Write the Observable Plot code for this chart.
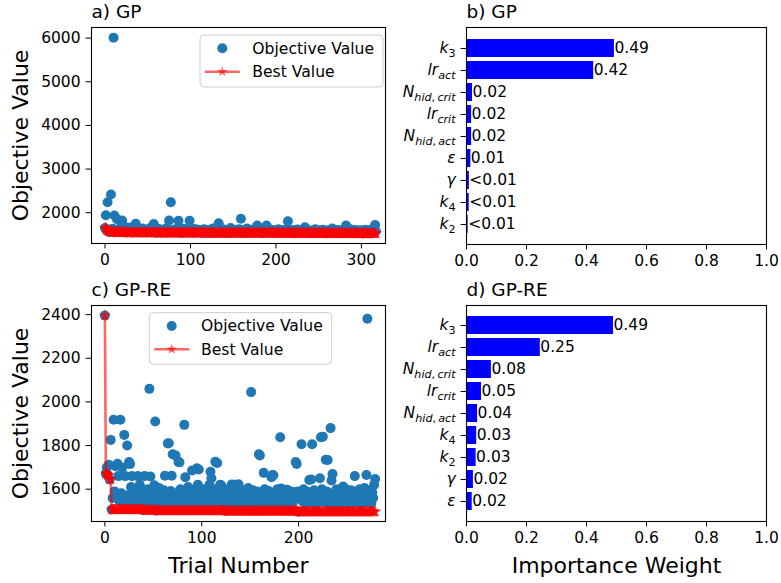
<!DOCTYPE html>
<html><head><meta charset="utf-8">
<script src="https://cdn.jsdelivr.net/npm/d3@7"></script>
<script src="https://cdn.jsdelivr.net/npm/@observablehq/plot@0.6"></script>
<style>
html,body{margin:0;padding:0;background:#fff;}
#chart{position:relative;width:781px;height:583px;background:#fff;overflow:hidden;}
</style></head><body><div id="chart"></div>
<script>
// ---------- data ----------
const objectiveGP = [
1648,1940,1600,2240,1575,1612,1560,2416,1590,1632,6010,1936,1552,1588,1850,1605,1570,1640,1562,1598,
1822,1575,1690,1558,1603,1545,1620,1580,1565,1660,1552,1595,1572,1548,1610,1585,1746,1560,1575,1630,
1555,1592,1568,1545,1640,1578,1552,1600,1570,1546,1615,1583,1560,1650,1549,1590,1575,1740,1558,1605,
1540,1580,1568,1625,1551,1594,1562,1545,1610,1575,1556,1640,1583,1549,1596,1822,1565,2240,1580,1602,
1545,1570,1620,1556,1590,1575,1815,1548,1605,1562,1541,1585,1630,1555,1572,1598,1545,1612,1566,1815,
1580,1548,1600,1560,1542,1625,1570,1551,1588,1563,1610,1545,1578,1595,1555,1538,1620,1567,1585,1549,
1602,1558,1535,1575,1590,1548,1640,1563,1580,1545,1570,1610,1556,1758,1582,1540,1598,1565,1550,1615,
1572,1544,1588,1560,1600,1538,1575,1650,1552,1585,1566,1545,1605,1578,1540,1592,1558,1620,1570,1860,
1548,1582,1600,1555,1536,1575,1640,1562,1590,1545,1610,1568,1552,1585,1600,1540,1572,1630,1707,1558,
1580,1545,1598,1562,1535,1615,1570,1550,1588,1707,1556,1640,1575,1540,1595,1562,1548,1605,1580,1533,
1570,1590,1552,1620,1565,1542,1585,1600,1556,1574,1538,1612,1560,1582,1805,1548,1595,1566,1540,1578,
1602,1555,1532,1588,1570,1615,1546,1580,1560,1598,1540,1575,1552,1590,1668,1563,1538,1605,1572,1548,
1585,1560,1530,1595,1570,1545,1620,1556,1578,1540,1600,1565,1550,1588,1535,1610,1572,1546,1582,1560,
1530,1598,1568,1545,1585,1556,1640,1575,1538,1595,1562,1548,1580,1605,1540,1570,1528,1588,1552,1600,
1565,1542,1707,1578,1550,1596,1535,1620,1560,1572,1545,1585,1528,1605,1568,1550,1590,1540,1575,1560,
1598,1545,1526,1580,1565,1612,1550,1588,1538,1570,1600,1555,1530,1585,1645,1560,1720,1575
];
const objectiveGPRE = [
2396,1671,1700,1665,1712,1645,1826,1507,1560,1918,1590,1705,1575,1717,1660,1545,1918,1582,1700,1553,
1849,1660,1530,1800,1572,1725,1715,1610,1660,1540,1585,1520,1598,1566,1660,1548,1620,1575,1535,1590,
1504,1660,1570,1545,1600,1582,2060,1658,1528,1590,1560,1618,1910,1502,1575,1550,1605,1532,1585,1562,
1540,1595,1662,1515,1578,1810,1811,1550,1592,1662,1760,1535,1580,1755,1565,1525,1725,1723,1600,1545,
1572,1590,1895,1655,1530,1568,1610,1548,1585,1520,1686,1575,1540,1598,1562,1696,1620,1690,1555,1530,
1580,1545,1600,1565,1525,1590,1540,1572,1620,1680,1650,1535,1585,1558,1726,1600,1720,1545,1570,1620,
1618,1530,1580,1555,1600,1500,1568,1545,1590,1520,1575,1622,1540,1560,1620,1585,1532,1618,1623,1550,
1572,1535,1595,1560,1520,1588,1545,1570,1605,1530,1562,2045,1580,1595,1540,1575,1522,1590,1555,1760,
1755,1568,1540,1585,1675,1600,1530,1562,1548,1592,1520,1575,1655,1665,1664,1540,1582,1558,1600,1525,
1570,1838,1603,1594,1545,1580,1560,1530,1598,1552,1575,1520,1590,1565,1540,1585,1555,1725,1716,1590,
1497,1560,1580,1806,1545,1600,1570,1560,1530,1588,1550,1642,1575,1645,1806,1540,1595,1560,1525,1580,
1565,1548,1650,1838,1600,1841,1575,1540,1735,1590,1734,1560,1530,1880,1640,1670,1555,1585,1520,1600,
1570,1545,1590,1560,1530,1580,1612,1550,1575,1600,1540,1565,1585,1525,1595,1555,1570,1540,1660,1590,
1560,1580,1545,1600,1530,1575,1555,1590,1605,1540,1665,2381,1570,1550,1595,1535,1585,1560,1620,1647
];
const paramsGP = ["k3","lr_act","N_hid_crit","lr_crit","N_hid_act","eps","gamma","k4","k2"];
const weightsGP = [0.493,0.424,0.020,0.017,0.017,0.0145,0.0095,0.009,0.0055];
const valueLabelsGP = ["0.49","0.42","0.02","0.02","0.02","0.01","<0.01","<0.01","<0.01"];
const paramsGPRE = ["k3","lr_act","N_hid_crit","lr_crit","N_hid_act","k4","k2","gamma","eps"];
const weightsGPRE = [0.490,0.246,0.083,0.050,0.037,0.034,0.032,0.023,0.019];
const valueLabelsGPRE = ["0.49","0.25","0.08","0.05","0.04","0.03","0.03","0.02","0.02"];
const trialTicksGP = [0,100,200,300];
const trialTicksGPRE = [0,100,200];
const objectiveTicksGP = [2000,3000,4000,5000,6000];
const objectiveTicksGPRE = [1600,1800,2000,2200,2400];
const weightTicks = [0,0.2,0.4,0.6,0.8,1.0];
// math-style tick labels: [text, italic, subscript]
const paramLabels = {
  k3: [["k",1,0],["3",0,1]],
  k4: [["k",1,0],["4",0,1]],
  k2: [["k",1,0],["2",0,1]],
  lr_act: [["lr",1,0],["act",1,1]],
  lr_crit: [["lr",1,0],["crit",1,1]],
  N_hid_crit: [["N",1,0],["hid",1,1],[",",0,1],["\u2009crit",1,1]],
  N_hid_act: [["N",1,0],["hid",1,1],[",",0,1],["\u2009act",1,1]],
  eps: [["\u03b5",1,0]],
  gamma: [["\u03b3",1,0]]
};

// ---------- layout ----------
const FONT = "DejaVu Sans";
const TICK = 15.5, LABEL = 22, TITLE = 18.5;
const DOT_R = 5, STAR_R = 3.3;
const chart = document.getElementById("chart");
const baseStyle = {fontFamily: FONT, fontSize: TICK + "px", color: "black", background: "transparent", overflow: "visible"};

function place(svg, left, top) {
  svg.style.position = "absolute";
  svg.style.left = left + "px";
  svg.style.top = top + "px";
  svg.style.maxWidth = "none";
  chart.appendChild(svg);
}

function scatterPanel(o) {
  const best = []; let m = Infinity;
  for (const v of o.values) { m = Math.min(m, v); best.push(m); }
  const marks = [
    Plot.dot(o.values, {x: (d, i) => i, y: d => d, r: DOT_R, fill: "#1f77b4", clip: true}),
    Plot.line(best, {x: (d, i) => i, y: d => d, stroke: "#ff0000", strokeOpacity: 0.6, strokeWidth: 2.6, clip: true}),
    Plot.dot(best, {x: (d, i) => i, y: d => d, symbol: "star", r: STAR_R, fill: "#ff0000", fillOpacity: 0.6, stroke: "#ff0000", strokeOpacity: 0.6, strokeWidth: 0.8, clip: true}),
    Plot.frame({stroke: "black", strokeWidth: 1.1}),
    Plot.axisX({ticks: o.xTicks, tickFormat: d3.format("d"), tickSize: 5.4, tickPadding: 5.5, label: null}),
    Plot.axisY({ticks: o.yTicks, tickFormat: d3.format("d"), tickSize: 5.4, tickPadding: 5.5, label: null}),
    Plot.text([o.title], {text: d => d, frameAnchor: "top-left", textAnchor: "start", lineAnchor: "bottom", dy: -9.3, fontSize: TITLE}),
    Plot.text(["Objective Value"], {text: d => d, frameAnchor: "left", rotate: -90, textAnchor: "middle", lineAnchor: "top", dx: -79, fontSize: LABEL})
  ];
  if (o.xLabel) marks.push(Plot.text([o.xLabel], {text: d => d, frameAnchor: "bottom", lineAnchor: "bottom", dy: 51, fontSize: LABEL}));
  const svg = Plot.plot({
    width: 390, height: o.height,
    marginLeft: 91, marginRight: 5, marginTop: o.marginTop, marginBottom: o.marginBottom,
    style: baseStyle,
    x: {domain: o.xDomain},
    y: {domain: o.yDomain},
    marks
  });
  place(svg, 0, o.top);
}

function barPanel(o) {
  const rows = o.params.map((p, i) => ({p, w: o.weights[i], l: o.labels[i]}));
  const marks = [
    Plot.barX(rows, {x: "w", y: "p", fill: "#0000ff"}),
    Plot.text(rows, {x: "w", y: "p", text: "l", textAnchor: "start", lineAnchor: "middle", fill: "black"}),
    Plot.frame({stroke: "black", strokeWidth: 1.1}),
    Plot.axisX({ticks: weightTicks, tickFormat: d3.format(".1f"), tickSize: 5.4, tickPadding: 5.5, label: null}),
    Plot.axisY({tickFormat: d => d, tickSize: 5.4, tickPadding: 5.5, label: null}),
    Plot.text([o.title], {text: d => d, frameAnchor: "top-left", textAnchor: "start", lineAnchor: "bottom", dy: -9.3, fontSize: TITLE})
  ];
  if (o.xLabel) marks.push(Plot.text([o.xLabel], {text: d => d, frameAnchor: "bottom", lineAnchor: "bottom", dy: 51, fontSize: LABEL}));
  const svg = Plot.plot({
    width: 391, height: o.height,
    marginLeft: 76, marginRight: 15, marginTop: o.marginTop, marginBottom: o.marginBottom,
    style: baseStyle,
    x: {domain: [0, 1]},
    y: {type: "band", domain: o.params, paddingInner: 0.2, paddingOuter: 0.44},
    marks
  });
  // render math-style tick labels with italic letters and subscripts
  svg.querySelectorAll('g[aria-label="y-axis tick label"] text').forEach(t => {
    const key = t.textContent;
    const parts = paramLabels[key];
    if (!parts) return;
    t.textContent = "";
    let shifted = false;
    for (const [s, it, sub] of parts) {
      const ts = document.createElementNS("http://www.w3.org/2000/svg", "tspan");
      ts.textContent = s;
      if (it) ts.setAttribute("font-style", "italic");
      if (sub) {
        ts.setAttribute("font-size", "72%");
        if (!shifted) { ts.setAttribute("dy", "0.28em"); shifted = true; }
      }
      t.appendChild(ts);
    }
  });
  place(svg, 390, o.top);
}

scatterPanel({values: objectiveGP, title: "a) GP", top: 0, height: 290, marginTop: 27, marginBottom: 47,
  xDomain: [-15.8, 328.2], yDomain: [1295, 6242], xTicks: trialTicksGP, yTicks: objectiveTicksGP});
scatterPanel({values: objectiveGPRE, title: "c) GP-RE", top: 290, height: 293, marginTop: 15, marginBottom: 62,
  xDomain: [-13.8, 289.7], yDomain: [1452, 2442], xTicks: trialTicksGPRE, yTicks: objectiveTicksGPRE, xLabel: "Trial Number"});
barPanel({params: paramsGP, weights: weightsGP, labels: valueLabelsGP, title: "b) GP", top: 0, height: 290, marginTop: 27, marginBottom: 46});
barPanel({params: paramsGPRE, weights: weightsGPRE, labels: valueLabelsGPRE, title: "d) GP-RE", top: 290, height: 293, marginTop: 15, marginBottom: 62, xLabel: "Importance Weight"});

// ---------- legends ----------
const leg = d3.create("svg").attr("width", 781).attr("height", 583)
  .style("position", "absolute").style("left", "0px").style("top", "0px").style("pointer-events", "none");
const starPath = d3.symbol(d3.symbolStar, Math.PI * STAR_R * STAR_R)();
function legend(x, y, w, h, mx, r1, r2, tx) {
  const g = leg.append("g");
  g.append("rect").attr("x", x).attr("y", y).attr("width", w).attr("height", h).attr("rx", 4)
    .attr("fill", "white").attr("fill-opacity", 0.8).attr("stroke", "#cccccc").attr("stroke-width", 1);
  g.append("circle").attr("cx", mx).attr("cy", r1).attr("r", DOT_R).attr("fill", "#1f77b4");
  g.append("line").attr("x1", mx - 17.5).attr("x2", mx + 17.5).attr("y1", r2).attr("y2", r2)
    .attr("stroke", "#ff0000").attr("stroke-opacity", 0.6).attr("stroke-width", 2.6);
  g.append("path").attr("d", starPath).attr("transform", `translate(${mx},${r2})`).attr("fill", "#ff0000").attr("fill-opacity", 0.6);
  g.append("text").attr("x", tx).attr("y", r1).attr("dy", "0.35em").text("Objective Value")
    .attr("font-family", FONT).attr("font-size", 15.6);
  g.append("text").attr("x", tx).attr("y", r2).attr("dy", "0.35em").text("Best Value")
    .attr("font-family", FONT).attr("font-size", 15.6);
}
legend(200, 35, 183, 52, 222.3, 48.3, 71.7, 252.3);
legend(149.3, 312.7, 182.4, 51.5, 171.7, 326, 349.3, 201);
chart.appendChild(leg.node());
</script></body></html>
